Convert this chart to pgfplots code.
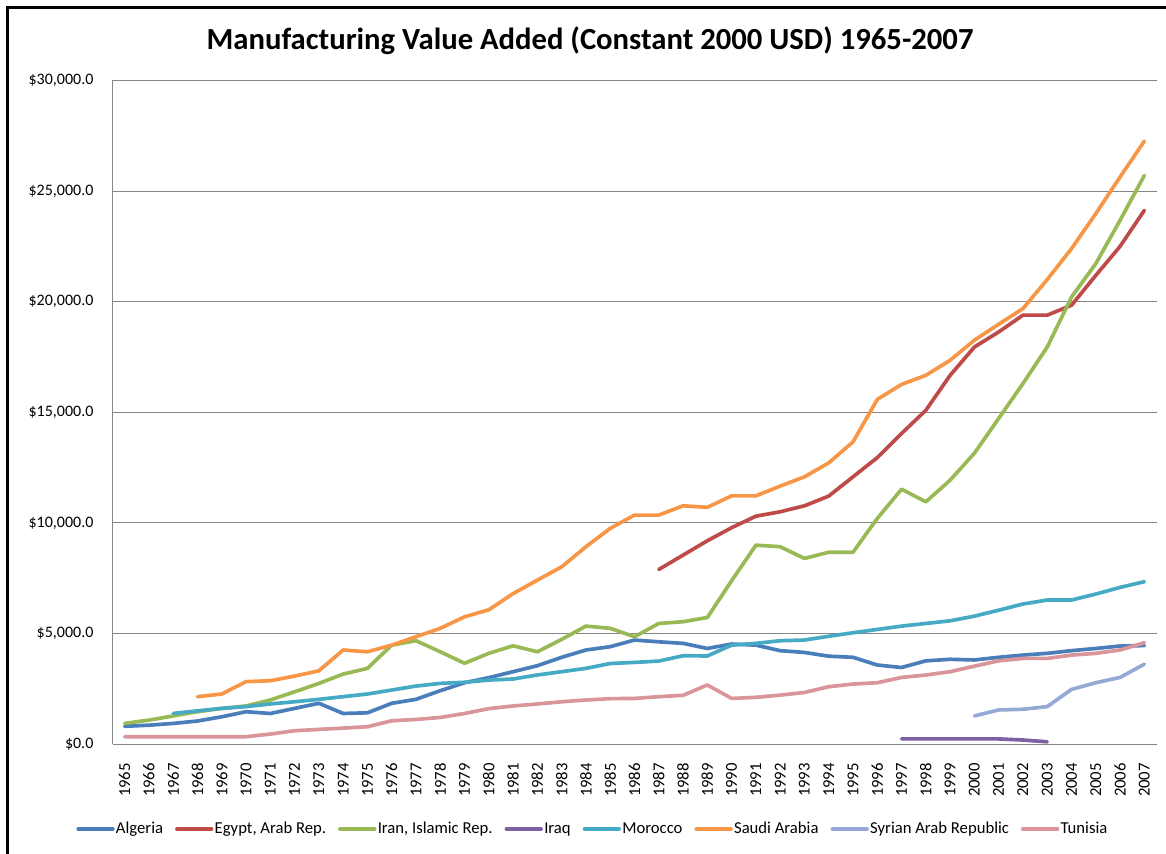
\documentclass[border=0pt]{standalone}
\usepackage{pgfplots}
\pgfplotsset{compat=1.18}
\usepackage{fontspec}
\setmainfont{Carlito}
\definecolor{algeria}{HTML}{4A7EBB}
\definecolor{egypt}{HTML}{BE4B48}
\definecolor{iran}{HTML}{98B954}
\definecolor{iraq}{HTML}{7D60A0}
\definecolor{morocco}{HTML}{46AAC5}
\definecolor{saudi}{HTML}{F79646}
\definecolor{syria}{HTML}{95A9D5}
\definecolor{tunisia}{HTML}{D9959A}
\definecolor{gridgray}{HTML}{868686}
\begin{document}
\begin{tikzpicture}
\useasboundingbox (0pt,0pt) rectangle (874.5pt,639.75pt);
\draw[black, line width=2.5pt] (5.6pt,-2pt) -- (5.6pt,634.1pt) -- (880pt,634.1pt);
\node[anchor=base, font=\bfseries\fontsize{23}{27}\selectfont] at (442.5pt,602.25pt) {Manufacturing Value Added (Constant 2000 USD) 1965-2007};
\begin{axis}[
  at={(84.375pt,81.75pt)}, anchor=south west,
  scale only axis, width=783pt, height=497.625pt,
  xmin=1964.5, xmax=2007.5, ymin=0, ymax=30000,
  axis x line=bottom, axis y line=left,
  axis line style={-, draw=gridgray, line width=0.75pt},
  ymajorgrids, major grid style={gridgray, line width=0.75pt},
  tick style={draw=none},
  scaled y ticks=false,
  xtick={1965,...,2007},
  xticklabel={\pgfmathprintnumber[1000 sep={}]{\tick}},
  x tick label style={rotate=90, anchor=east, inner sep=0pt, font=\fontsize{12.5}{14}\selectfont},
  xticklabel shift=12pt,
  ytick={0,5000,10000,15000,20000,25000,30000},
  yticklabels={{\$0.0},{\$5,000.0},{\$10,000.0},{\$15,000.0},{\$20,000.0},{\$25,000.0},{\$30,000.0}},
  y tick label style={anchor=east, inner sep=0pt, font=\fontsize{12}{14}\selectfont},
  yticklabel shift=12pt,
  /pgf/number format/assume math mode=true,
  legend columns=8,
  legend style={at={(0.4598,-0.1281)}, anchor=center, draw=none, fill=none,
    font=\fontsize{12.5}{14}\selectfont, nodes={inner xsep=1pt, inner ysep=1pt},
    /tikz/every even column/.append style={column sep=8pt}},
  legend image code/.code={\draw[#1] (0pt,0pt) -- (26pt,0pt);},
  every axis plot/.append style={line width=2.75pt, line join=round, line cap=round},
]
\addplot[algeria] coordinates {
(1965,800)(1966,850)(1967,930)(1968,1040)(1969,1230)(1970,1460)(1971,1380)(1972,1610)(1973,1840)(1974,1380)(1975,1410)(1976,1840)(1977,2020)(1978,2410)(1979,2770)(1980,3000)(1981,3270)(1982,3540)(1983,3920)(1984,4250)(1985,4400)(1986,4700)(1987,4620)(1988,4550)(1989,4320)(1990,4520)(1991,4470)(1992,4220)(1993,4140)(1994,3970)(1995,3920)(1996,3570)(1997,3460)(1998,3760)(1999,3830)(2000,3800)(2001,3920)(2002,4020)(2003,4100)(2004,4220)(2005,4320)(2006,4430)(2007,4450)};
\addlegendentry{Algeria}
\addplot[egypt] coordinates {
(1987,7890)(1988,8540)(1989,9190)(1990,9780)(1991,10300)(1992,10500)(1993,10770)(1994,11210)(1995,12080)(1996,12950)(1997,14040)(1998,15090)(1999,16670)(2000,17950)(2001,18630)(2002,19390)(2003,19390)(2004,19840)(2005,21190)(2006,22500)(2007,24130)};
\addlegendentry{Egypt, Arab Rep.}
\addplot[iran] coordinates {
(1965,930)(1966,1080)(1967,1270)(1968,1460)(1969,1610)(1970,1720)(1971,1990)(1972,2360)(1973,2740)(1974,3160)(1975,3420)(1976,4470)(1977,4670)(1978,4170)(1979,3650)(1980,4100)(1981,4440)(1982,4170)(1983,4730)(1984,5330)(1985,5230)(1986,4850)(1987,5450)(1988,5530)(1989,5720)(1990,7380)(1991,8990)(1992,8920)(1993,8390)(1994,8670)(1995,8670)(1996,10200)(1997,11520)(1998,10950)(1999,11930)(2000,13150)(2001,14720)(2002,16300)(2003,17950)(2004,20210)(2005,21720)(2006,23680)(2007,25710)};
\addlegendentry{Iran, Islamic Rep.}
\addplot[iraq] coordinates {
(1997,230)(1998,230)(1999,230)(2000,230)(2001,230)(2002,180)(2003,100)};
\addlegendentry{Iraq}
\addplot[morocco] coordinates {
(1967,1380)(1968,1500)(1969,1610)(1970,1690)(1971,1810)(1972,1910)(1973,2020)(1974,2140)(1975,2260)(1976,2440)(1977,2620)(1978,2740)(1979,2790)(1980,2890)(1981,2940)(1982,3120)(1983,3270)(1984,3420)(1985,3640)(1986,3690)(1987,3750)(1988,3990)(1989,3980)(1990,4470)(1991,4550)(1992,4670)(1993,4700)(1994,4870)(1995,5030)(1996,5180)(1997,5330)(1998,5450)(1999,5570)(2000,5780)(2001,6050)(2002,6330)(2003,6510)(2004,6510)(2005,6780)(2006,7080)(2007,7340)};
\addlegendentry{Morocco}
\addplot[saudi] coordinates {
(1968,2140)(1969,2260)(1970,2820)(1971,2860)(1972,3070)(1973,3310)(1974,4250)(1975,4170)(1976,4470)(1977,4850)(1978,5230)(1979,5750)(1980,6070)(1981,6800)(1982,7410)(1983,8010)(1984,8920)(1985,9750)(1986,10350)(1987,10350)(1988,10770)(1989,10700)(1990,11220)(1991,11220)(1992,11660)(1993,12080)(1994,12710)(1995,13660)(1996,15580)(1997,16260)(1998,16670)(1999,17350)(2000,18260)(2001,18980)(2002,19690)(2003,21000)(2004,22400)(2005,23980)(2006,25640)(2007,27260)};
\addlegendentry{Saudi Arabia}
\addplot[syria] coordinates {
(2000,1270)(2001,1540)(2002,1570)(2003,1690)(2004,2470)(2005,2770)(2006,3010)(2007,3610)};
\addlegendentry{Syrian Arab Republic}
\addplot[tunisia] coordinates {
(1965,330)(1966,330)(1967,330)(1968,330)(1969,330)(1970,330)(1971,450)(1972,600)(1973,660)(1974,720)(1975,780)(1976,1050)(1977,1110)(1978,1200)(1979,1380)(1980,1600)(1981,1720)(1982,1810)(1983,1910)(1984,1990)(1985,2050)(1986,2060)(1987,2140)(1988,2200)(1989,2670)(1990,2060)(1991,2110)(1992,2210)(1993,2330)(1994,2590)(1995,2710)(1996,2770)(1997,3010)(1998,3120)(1999,3270)(2000,3520)(2001,3760)(2002,3870)(2003,3870)(2004,4020)(2005,4100)(2006,4250)(2007,4580)};
\addlegendentry{Tunisia}
\end{axis}
\end{tikzpicture}
\end{document}
